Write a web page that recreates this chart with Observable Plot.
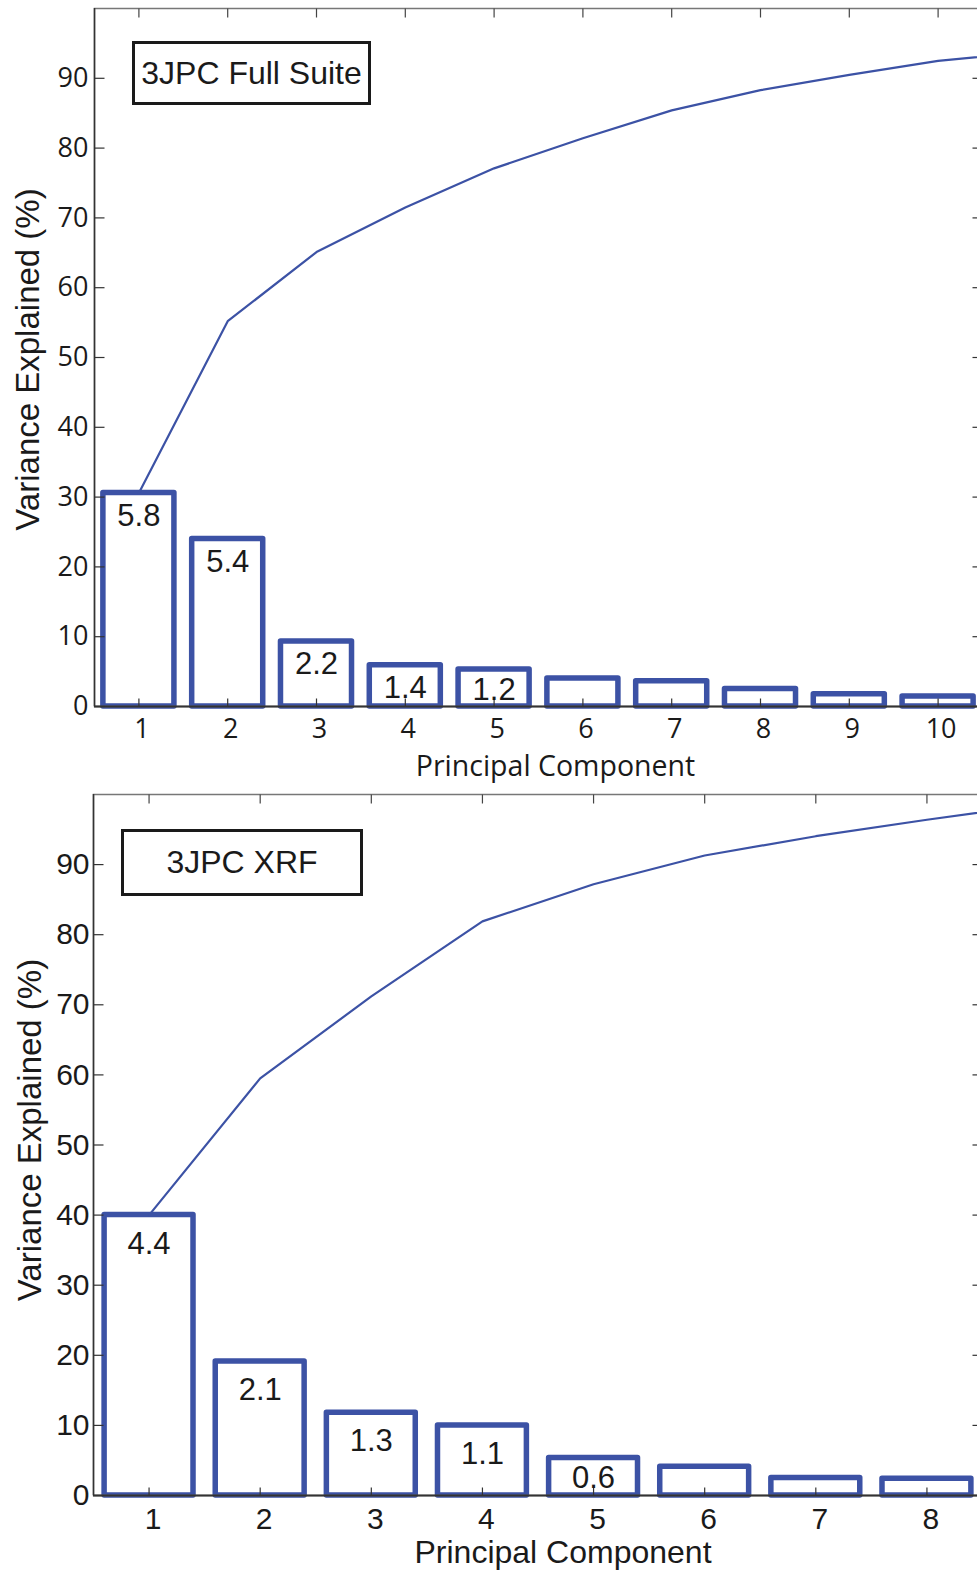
<!DOCTYPE html>
<html>
<head>
<meta charset="utf-8">
<script src="https://cdn.jsdelivr.net/npm/d3@7"></script>
<script src="https://cdn.jsdelivr.net/npm/@observablehq/plot@0.6"></script>
<style>
  body { margin: 0; background: #fff; }
  .panel { position: relative; width: 977px; overflow: hidden; }
  .tag {
    position: absolute; box-sizing: border-box; border: 3px solid #1a1a1a;
    background: #fff; color: #1a1a1a; display: flex; align-items: center; justify-content: center;
    font-family: "Liberation Sans", Arial, sans-serif; font-size: 32px; white-space: nowrap;
  }
</style>
</head>
<body>
<div id="full" class="panel"><div class="tag" style="left:132px;top:41px;width:239px;height:64px;">3JPC Full Suite</div></div>
<div id="xrf" class="panel"><div class="tag" style="left:121px;top:43px;width:242px;height:67px;">3JPC XRF</div></div>
<script>
// 3JPC full suite: % variance per principal component, cumulative %, eigenvalue labels
const fullComponents = [1, 2, 3, 4, 5, 6, 7, 8, 9, 10];
const fullVariance = [30.6, 24.0, 9.3, 5.9, 5.3, 4.0, 3.6, 2.5, 1.75, 1.45];
const fullCumComponents = [1, 2, 3, 4, 5, 6, 7, 8, 9, 10, 11];
const fullCumulative = [30.6, 55.2, 65.1, 71.5, 77.1, 81.4, 85.4, 88.3, 90.5, 92.5, 93.7];
const fullEigen = [5.8, 5.4, 2.2, 1.4, 1.2];

// 3JPC XRF only
const xrfComponents = [1, 2, 3, 4, 5, 6, 7, 8];
const xrfVariance = [40.0, 19.1, 11.8, 10.0, 5.35, 4.1, 2.5, 2.4];
const xrfCumComponents = [1, 2, 3, 4, 5, 6, 7, 8, 9];
const xrfCumulative = [40.0, 59.5, 71.2, 81.9, 87.2, 91.3, 94.05, 96.4, 98.6];
const xrfEigen = [4.4, 2.1, 1.3, 1.1, 0.6];

const yTicks = [0, 10, 20, 30, 40, 50, 60, 70, 80, 90];
const yLabel = "Variance Explained (%)";
const xLabel = "Principal Component";

const blue = "#3c52a5";
const ink = "#1a1a1a";

// inward-pointing tick glyphs for the mirrored box axes
const tick = (dx, dy) => ({draw(ctx) { ctx.moveTo(0, 0); ctx.lineTo(dx, dy); }});

function pareto(o) {
  const bars = o.components.map((pc, i) => ({pc, v: o.variance[i]}));
  const cum = o.cumComponents.map((pc, i) => ({pc, v: o.cumulative[i]}));
  const labels = o.eigen.map((e, i) => ({pc: o.components[i], v: o.variance[i], e}));
  const n = o.components.length;
  return Plot.plot({
    width: 982,
    height: o.height,
    marginTop: o.marginTop,
    marginBottom: o.marginBottom,
    marginLeft: o.marginLeft,
    marginRight: 0,
    style: {maxWidth: "none", background: "#fff", color: ink, fontFamily: o.tickFont, fontSize: o.tickSize + "px"},
    x: {domain: [0.5, n + 0.5]},
    y: {domain: [0, 100]},
    marks: [
      Plot.rect(bars, {x1: d => d.pc - 0.4, x2: d => d.pc + 0.4, y1: 0, y2: "v",
        fill: "#fff", stroke: blue, strokeWidth: 5.5, strokeLinejoin: "round"}),
      Plot.line(cum, {x: "pc", y: "v", stroke: blue, strokeWidth: 2.2, clip: true}),
      Plot.frame({stroke: "#777", strokeWidth: 1.5}),
      Plot.ruleY([0], {stroke: "#333", strokeWidth: 2}),
      Plot.ruleX([0.5], {stroke: "#333", strokeWidth: 1.5}),
      Plot.dot(o.components, {x: d => d, frameAnchor: "bottom", symbol: tick(0, -8), fill: "none", stroke: "#333", strokeWidth: 1.2}),
      Plot.dot(o.components, {x: d => d, frameAnchor: "top", symbol: tick(0, 9), fill: "none", stroke: "#444", strokeWidth: 1.2}),
      Plot.dot(yTicks, {y: d => d, frameAnchor: "left", symbol: tick(10, 0), fill: "none", stroke: "#333", strokeWidth: 1.2}),
      Plot.dot(yTicks, {y: d => d, frameAnchor: "right", symbol: tick(-10, 0), fill: "none", stroke: "#333", strokeWidth: 1.2}),
      Plot.axisY({ticks: yTicks, tickSize: 0, tickPadding: o.yPad, label: null, fontSize: o.tickSize, fontFamily: o.tickFont}),
      Plot.axisX({ticks: o.components, tickSize: 0, tickPadding: o.xPad, tickFormat: d => String(d), label: null,
        dx: o.xTickDx, fontSize: o.tickSize, fontFamily: o.tickFont}),
      Plot.text(labels, {x: "pc", y: d => Math.max(d.v - o.labelDrop, o.labelFloor), text: d => d.e.toFixed(1),
        lineAnchor: "bottom", fontSize: o.valueSize, fontFamily: "Liberation Sans, Arial, sans-serif", fill: ink}),
      Plot.text([yLabel], {frameAnchor: "left", dx: o.yLabelDx, dy: o.yLabelDy, rotate: -90, textAnchor: "middle",
        lineAnchor: "middle", fontSize: 33, fontFamily: "Liberation Sans, Arial, sans-serif", fill: ink}),
      Plot.text([xLabel], {frameAnchor: "bottom", dx: o.xLabelDx, dy: o.xLabelDy, lineAnchor: "bottom",
        fontSize: o.xLabelSize, fontFamily: o.tickFont, fill: ink})
    ]
  });
}

document.getElementById("full").append(pareto({
  components: fullComponents, variance: fullVariance,
  cumComponents: fullCumComponents, cumulative: fullCumulative, eigen: fullEigen,
  height: 786, marginTop: 8, marginBottom: 80, marginLeft: 94,
  tickFont: "Open Sans, sans-serif", tickSize: 27, yPad: 6, xPad: 12, xTickDx: 3,
  valueSize: 31, labelDrop: 4.7, labelFloor: 0.9,
  yLabelDx: -66, yLabelDy: 2, xLabelDx: 17, xLabelDy: 69, xLabelSize: 28.5
}));

document.getElementById("xrf").append(pareto({
  components: xrfComponents, variance: xrfVariance,
  cumComponents: xrfCumComponents, cumulative: xrfCumulative, eigen: xrfEigen,
  height: 786, marginTop: 8, marginBottom: 77, marginLeft: 93,
  tickFont: "Liberation Sans, Arial, sans-serif", tickSize: 30, yPad: 4, xPad: 12, xTickDx: 4,
  valueSize: 31, labelDrop: 5.5, labelFloor: 1.0,
  yLabelDx: -63, yLabelDy: -15, xLabelDx: 25, xLabelDy: 67, xLabelSize: 32
}));
</script>
</body>
</html>
